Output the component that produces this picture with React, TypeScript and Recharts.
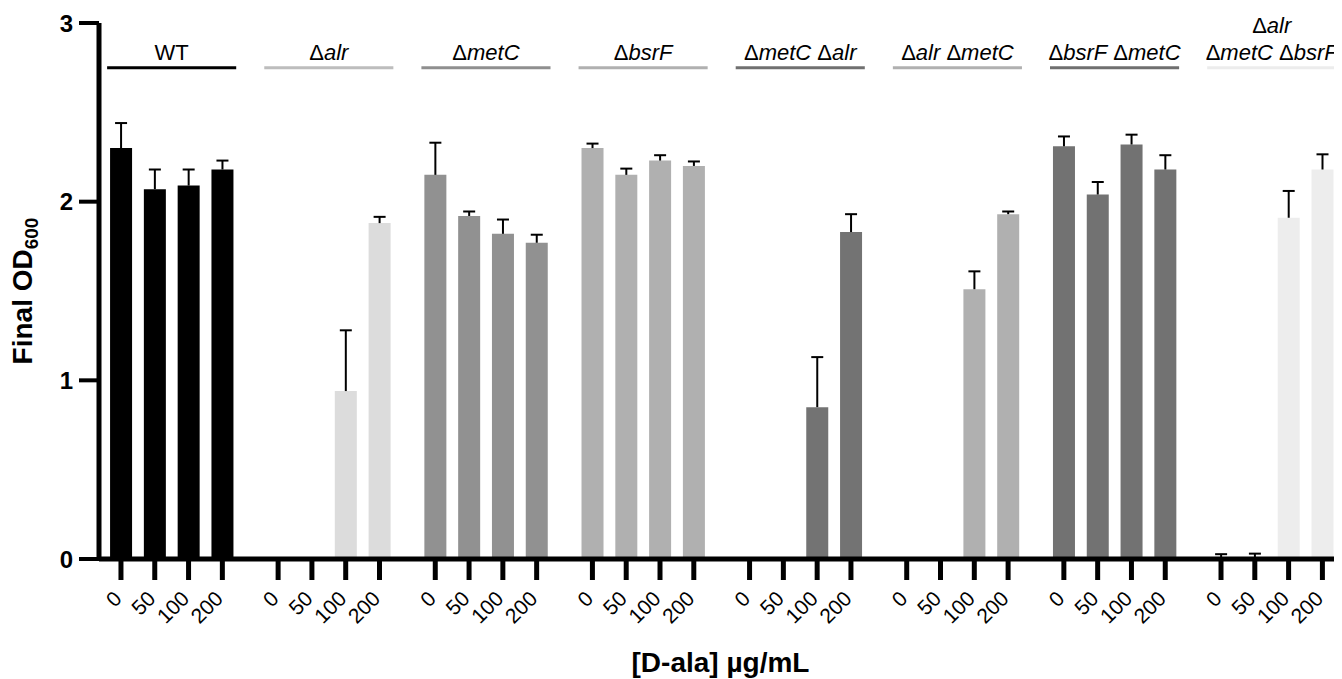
import React from "react";
import { BarChart, Bar, XAxis, YAxis, Cell, ReferenceLine } from "recharts";

// strains, in plot order; each entry is the label split into lines
const strainLabels: string[][] = [
  ["WT"],
  ["Δalr"],
  ["ΔmetC"],
  ["ΔbsrF"],
  ["ΔmetC Δalr"],
  ["Δalr ΔmetC"],
  ["ΔbsrF ΔmetC"],
  ["Δalr", "ΔmetC ΔbsrF"],
];

const doses = ["0", "50", "100", "200"];

// final OD600, mean and SD per D-ala dose
const wtMean = [2.3, 2.07, 2.09, 2.18];
const wtSd = [0.14, 0.11, 0.09, 0.05];
const alrMean = [0, 0, 0.94, 1.88];
const alrSd = [0, 0, 0.34, 0.035];
const metCMean = [2.15, 1.92, 1.82, 1.77];
const metCSd = [0.18, 0.025, 0.08, 0.045];
const bsrFMean = [2.3, 2.15, 2.23, 2.2];
const bsrFSd = [0.025, 0.035, 0.03, 0.025];
const metCAlrMean = [0, 0, 0.85, 1.83];
const metCAlrSd = [0, 0, 0.28, 0.1];
const alrMetCMean = [0, 0, 1.51, 1.93];
const alrMetCSd = [0, 0, 0.1, 0.015];
const bsrFMetCMean = [2.31, 2.04, 2.32, 2.18];
const bsrFMetCSd = [0.055, 0.07, 0.055, 0.08];
const tripleMean = [0.005, 0.008, 1.91, 2.18];
const tripleSd = [0.022, 0.022, 0.15, 0.085];

const means = [wtMean, alrMean, metCMean, bsrFMean, metCAlrMean, alrMetCMean, bsrFMetCMean, tripleMean];
const sds = [wtSd, alrSd, metCSd, bsrFSd, metCAlrSd, alrMetCSd, bsrFMetCSd, tripleSd];

const barColors = ["#000000", "#dcdcdc", "#919191", "#b0b0b0", "#737373", "#b0b0b0", "#727272", "#ededed"];
const lineColors = ["#000000", "#bdbdbd", "#8f8f8f", "#b0b0b0", "#707070", "#b0b0b0", "#6f6f6f", "#ececec"];

const GROUP_STEP = 4.65;
const LABEL_Y = 2.75;
const FONT = "'Liberation Sans', Arial, Helvetica, sans-serif";

const data = strainLabels.flatMap((_, gi) =>
  doses.map((d, di) => ({
    x: gi * GROUP_STEP + di,
    group: gi,
    dose: d,
    value: means[gi][di],
    err: sds[gi][di],
  }))
);
const xTicks = data.map((r) => r.x);

const strainText = (line: string) =>
  line.split(" ").flatMap((tok, i) => {
    const out: React.ReactNode[] = [];
    const pre = i > 0 ? "\u00a0" : "";
    if (tok.startsWith("Δ")) {
      out.push(<tspan key={`d${i}`}>{pre + "Δ"}</tspan>);
      out.push(
        <tspan key={`i${i}`} fontStyle="italic">
          {tok.slice(1)}
        </tspan>
      );
    } else {
      out.push(<tspan key={`t${i}`}>{pre + tok}</tspan>);
    }
    return out;
  });

const groupLabel = (gi: number) => (props: any) => {
  const vb = props.viewBox || {};
  const cx = vb.x + (vb.width || 0) / 2;
  const lines = strainLabels[gi];
  return (
    <g>
      {lines.map((ln, li) => (
        <text
          key={li}
          x={cx}
          y={vb.y - 8 - (lines.length - 1 - li) * 27}
          textAnchor="middle"
          fontSize={22}
          fill="#000"
          fontFamily={FONT}
        >
          {strainText(ln)}
        </text>
      ))}
    </g>
  );
};

const DoseTick = (props: any) => {
  const { x, y, payload } = props;
  const v = payload.value;
  const gi = Math.floor((v + 0.5) / GROUP_STEP);
  const di = Math.round(v - gi * GROUP_STEP);
  const ax = x + 2;
  const ay = y + 20;
  return (
    <text
      x={ax}
      y={ay}
      transform={`rotate(-45 ${ax} ${ay})`}
      textAnchor="end"
      fontSize={21}
      fill="#000"
      fontFamily={FONT}
    >
      {doses[di]}
    </text>
  );
};

const ErrorShape = (props: any) => {
  const { x, y, width, height } = props;
  if (!height || height <= 0) return null;
  const cx = x + width / 2;
  return (
    <g>
      <line x1={cx} y1={y + height} x2={cx} y2={y} stroke="#000" strokeWidth={2} />
      <line x1={cx - 6} y1={y} x2={cx + 6} y2={y} stroke="#000" strokeWidth={2} />
    </g>
  );
};

export default function App() {
  return (
    <div style={{ fontFamily: FONT }}>
      <BarChart
        width={1334}
        height={671}
        data={data}
        margin={{ top: 15, right: 0, bottom: 0, left: 0 }}
      >
        <XAxis
          type="number"
          dataKey="x"
          domain={[-0.65, 36.13]}
          ticks={xTicks}
          interval={0}
          height={120}
          tickSize={21}
          tickMargin={0}
          axisLine={{ stroke: "#000", strokeWidth: 5 }}
          tickLine={{ stroke: "#000", strokeWidth: 5 }}
          tick={<DoseTick />}
          label={{
            content: (p: any) => {
              const vb = p.viewBox;
              return (
                <text
                  x={vb.x + vb.width / 2}
                  y={vb.y + 113}
                  textAnchor="middle"
                  fontSize={28}
                  fontWeight={700}
                  fill="#000"
                  fontFamily={FONT}
                >
                  [D-ala] µg/mL
                </text>
              );
            },
          }}
        />
        <YAxis
          type="number"
          domain={[0, 3]}
          ticks={[0, 1, 2, 3]}
          width={91}
          tickSize={20}
          tickMargin={6}
          axisLine={{ stroke: "#000", strokeWidth: 5 }}
          tickLine={{ stroke: "#000", strokeWidth: 4 }}
          tick={{ fontSize: 24, fontWeight: 700, fill: "#000", fontFamily: FONT }}
          label={{
            content: (p: any) => {
              const vb = p.viewBox;
              const cx = 24;
              const cy = vb.y + vb.height / 2;
              return (
                <text
                  x={cx}
                  y={cy}
                  transform={`rotate(-90 ${cx} ${cy})`}
                  textAnchor="middle"
                  fontSize={28}
                  fontWeight={700}
                  fill="#000"
                  fontFamily={FONT}
                >
                  Final OD
                  <tspan fontSize={19} dy={6}>
                    600
                  </tspan>
                </text>
              );
            },
          }}
        />
        <Bar dataKey="value" stackId="s" barSize={22} isAnimationActive={false}>
          {data.map((r, i) => (
            <Cell key={i} fill={barColors[r.group]} />
          ))}
        </Bar>
        <Bar
          dataKey="err"
          stackId="s"
          barSize={22}
          isAnimationActive={false}
          shape={<ErrorShape />}
        />
        {strainLabels.map((_, gi) => (
          <ReferenceLine
            key={gi}
            segment={[
              { x: gi * GROUP_STEP - 0.41, y: LABEL_Y },
              { x: gi * GROUP_STEP + 3.41, y: LABEL_Y },
            ]}
            stroke={lineColors[gi]}
            strokeWidth={3}
            label={{ content: groupLabel(gi) }}
          />
        ))}
      </BarChart>
    </div>
  );
}
